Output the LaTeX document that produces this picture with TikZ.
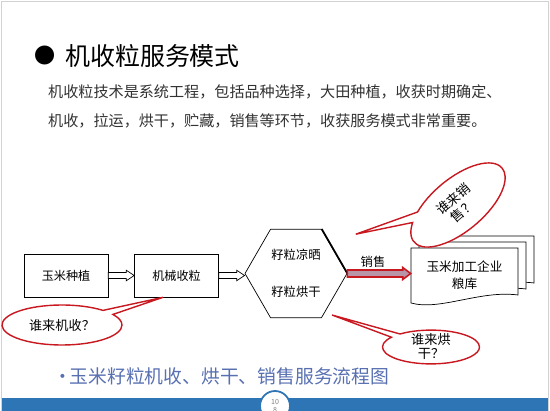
\documentclass[tikz,border=0pt]{standalone}
\usepackage{fontspec}
\setmainfont{Noto Sans CJK SC}
\usetikzlibrary{shapes.geometric,shapes.callouts,calc,positioning}
\definecolor{barblue}{RGB}{46,117,182}
\definecolor{capblue}{RGB}{88,112,178}
\definecolor{callred}{RGB}{200,24,32}
\definecolor{salefill}{RGB}{184,150,168}
\definecolor{textgray}{RGB}{50,50,50}
\tikzset{
    stage/.style={rectangle, draw, thin, minimum width=1.68cm, minimum height=0.86cm, font=\fontsize{6.9}{8}\selectfont},
    dryer/.style={regular polygon, regular polygon sides=6, draw, thin, minimum size=2.04cm, inner sep=0pt, align=center, font=\fontsize{7}{21}\selectfont},
    ask/.style={ellipse callout, draw=callred, thick, fill=white, inner sep=0pt, align=center, font=\fontsize{7.5}{8.5}\selectfont},
    pipe/.style={draw, thin, fill=white},
    sale pipe/.style={draw=callred, line width=0.9pt, fill=salefill},
    doc/.style={draw, thin, fill=white},
}
% hollow arrow: style, from, to, half shaft, half head
\newcommand{\flowarrow}[5]{%
  \path[#1] let \p1=(#2), \p2=(#3) in
    (\x1,\y1+#4) -- (\x2-4.5pt,\y1+#4) -- (\x2-4.5pt,\y1+#5) -- (\x2,\y1)
    -- (\x2-4.5pt,\y1-#5) -- (\x2-4.5pt,\y1-#4) -- (\x1,\y1-#4) -- cycle;}
\begin{document}
\begin{tikzpicture}[x=0.02cm, y=-0.02cm]
    \useasboundingbox (0,0) rectangle (550,411);
    \draw[gray!35] (1.5,411) -- (1.5,1.5) -- (548.5,1.5) -- (548.5,411);

    % heading and intro
    \node[font=\fontsize{12}{12}\selectfont] (dot) at (45,55) {●};
    \node[anchor=west, font=\fontsize{14.2}{16}\selectfont] (title) at (59,56) {机收粒服务模式};
    \node[anchor=west, align=left, text=textgray, font=\fontsize{8.6}{16.5}\selectfont] (intro) at (42,106.5)
        {机收粒技术是系统工程，包括品种选择，大田种植，收获时期确定、\\机收，拉运，烘干，贮藏，销售等环节，收获服务模式非常重要。};

    % flow
    \foreach \name/\x/\txt in {plant/66/玉米种植, harvest/176.5/机械收粒}
        \node[stage] (\name) at (\x,275.5) {\txt};
    \node[dryer] (hex) at (296,273.5) {籽粒凉晒\\籽粒烘干};
    \draw[line width=1pt] (hex.corner 6) -- (hex.corner 1);

    \foreach \d in {16,8,0}
        \draw[doc] (411+\d,248-0.75*\d) -- (518+\d,248-0.75*\d) -- (518+\d,295-0.75*\d)
            .. controls (480+\d,290-0.75*\d) and (440+\d,311-0.75*\d) .. (411+\d,303-0.75*\d) -- cycle;
    \node[minimum width=2.14cm, minimum height=1.1cm, align=center, font=\fontsize{7.2}{10}\selectfont] (mill) at (464.5,275) {玉米加工企业\\粮库};

    \foreach \from/\to in {plant.east/harvest.west, harvest.east/hex.west}
        \flowarrow{pipe}{\from}{\to}{1.7pt}{3pt};
    \flowarrow{sale pipe}{hex.east}{mill.west}{2pt}{3.4pt}
    \node[font=\fontsize{7}{8}\selectfont] (salelabel) at (373,262) {销售};

    % who does it?
    \coordinate (drytip) at (332,315);
    \node[ask, minimum width=2.4cm, minimum height=0.8cm,
        callout absolute pointer={($(harvest.south west)!0.34!(harvest.south east)$)}] (askharvest) at (62,325) {谁来机收？};
    \node[ask, rotate=40, minimum width=2.3cm, minimum height=1.05cm,
        callout relative pointer={(-1.12cm,0.5cm)}] (asksell) at (458,205) {谁来销\\售？};
    \node[ask, minimum width=1.94cm, minimum height=0.62cm, text height=13.6pt, text depth=0pt,
        callout absolute pointer={(drytip)}] (askdry) at (431,347) {谁来烘\\干？};

    % caption and footer
    \node[anchor=west, text=capblue, font=\fontsize{10.7}{12}\selectfont] (caption) at (47.5,376) {•\hspace{-0.15em}玉米籽粒机收、烘干、销售服务流程图};
    \fill[barblue] (2,398) rectangle (548,411);
    \node[circle, draw=barblue, fill=white, line width=1pt, minimum size=0.6cm, inner sep=0pt, align=center,
        text=gray, font=\fontsize{4}{5}\selectfont] (pageno) at (275,406) {10\\8};
\end{tikzpicture}
\end{document}
